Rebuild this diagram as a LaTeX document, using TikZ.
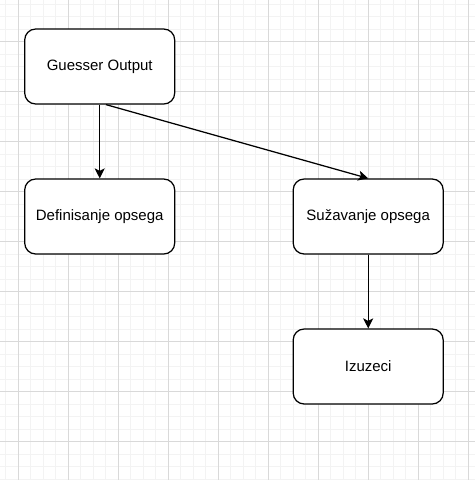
\documentclass[tikz,border=0pt]{standalone}
\usepackage{fontspec}
\setmainfont{Liberation Sans}
\usetikzlibrary{arrows.meta}
\definecolor{gridminor}{HTML}{F3F3F3}
\definecolor{gridmajor}{HTML}{D9D9D9}
\begin{document}
\begin{tikzpicture}[x=1pt,y=-1pt,
  box/.style={draw=black, line width=1.25pt, fill=white, rounded corners=11pt,
    minimum width=150pt, minimum height=75pt, inner sep=0pt,
    font=\fontsize{15}{18}\selectfont},
  conn/.style={line width=1.25pt, -{Stealth[length=10pt,width=10pt,inset=2.5pt]}},
  minorgrid/.style={draw=gridminor, line width=1pt},
  majorgrid/.style={draw=gridmajor, line width=1pt}]
\useasboundingbox (0,0) rectangle (475,480);
\fill[white] (0,0) rectangle (475,480);
\foreach \x in {5.8,18.3,...,475} \draw[minorgrid] (\x,0) -- (\x,480);
\foreach \y in {4.2,16.7,...,480} \draw[minorgrid] (0,\y) -- (475,\y);
\foreach \x in {18.3,68.3,...,475} \draw[majorgrid] (\x,0) -- (\x,480);
\foreach \y in {41.7,91.7,...,480} \draw[majorgrid] (0,\y) -- (475,\y);

\node[box] (G) at (99.7,66.5) {Guesser Output};
\node[box] (D) at (99.7,216.5) {Definisanje opsega};
\node[box] (S) at (368.2,216.5) {Sužavanje opsega};
\node[box] (I) at (368.2,366.5) {Izuzeci};

\coordinate (gs) at ([xshift=6.3pt]G.south);
\draw[conn] (G) -- (D);
\draw[conn] (gs) -- (S.north);
\draw[conn] (S) -- (I);
\end{tikzpicture}
\end{document}
